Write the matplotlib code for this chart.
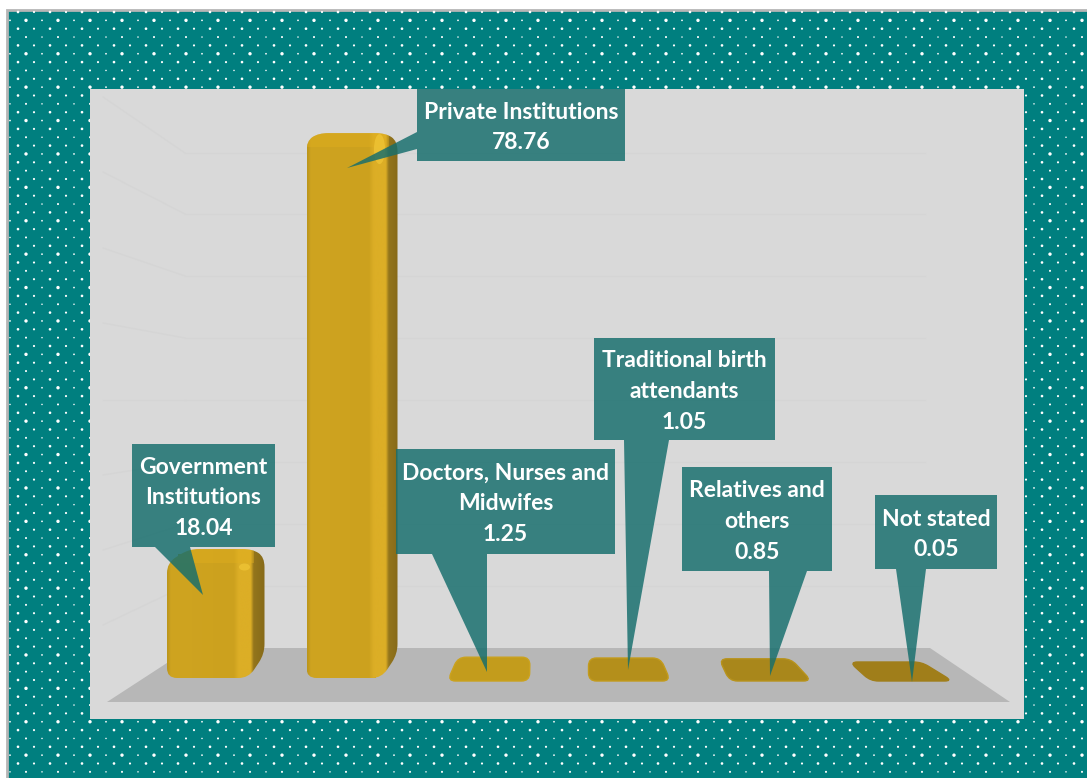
import numpy as np
import matplotlib
matplotlib.use("Agg")
import matplotlib.pyplot as plt
from matplotlib.colors import to_rgb
from matplotlib.patches import Ellipse, PathPatch, Polygon, Rectangle
from matplotlib.path import Path
from matplotlib.transforms import Affine2D

categories = ["Government\nInstitutions", "Private Institutions", "Doctors, Nurses and\nMidwifes",
              "Traditional birth\nattendants", "Relatives and\nothers", "Not stated"]
values = [18.04, 78.76, 1.25, 1.05, 0.85, 0.05]

# callout boxes (left, top, right, bottom) and pointer tips, in pixels
boxes = [(132, 444, 275, 547), (417, 89, 625, 161), (396, 449, 615, 554),
         (594, 338, 775, 440), (682, 467, 832, 571), (875, 495, 997, 569)]
tips = [(203, 595), (347, 168), (487, 672), (628, 670), (770, 676), (912, 682)]
pointer_base = [(155, 190), (132, 149), (432, 487), (624, 669), (769, 807), (896, 926)]

TEAL = "#007f7f"
BOX = "#166e6d"
BOX_ALPHA = 0.83

W, H = 1087, 778
fig = plt.figure(figsize=(W / 100, H / 100), dpi=100, facecolor="white")
ax = fig.add_axes([0, 0, 1, 1])

# category 0 sits at pixel 206.5, value 0 at pixel row 678
X0, DX = 206.5, 141
Y0, DY = 678, 6.85
XLIM = (-X0 / DX, (W - X0) / DX)
YLIM = ((Y0 - H) / DY, Y0 / DY)
ax.set_xlim(XLIM)
ax.set_ylim(YLIM)
ax.axis("off")

# picture pixels, y going down
pix = Affine2D().scale(1, -1).translate(0, H)


def to_pix(x, y):
    px, py = ax.transData.transform((x, y))
    return px, H - py


def rounded(pts, r):
    # closed outline with the corners rounded off
    pts = [np.array(p, dtype=float) for p in pts]
    verts, codes = [], []
    n = len(pts)
    for k in range(n):
        p, prev, nxt = pts[k], pts[k - 1], pts[(k + 1) % n]
        a = p + (prev - p) / np.linalg.norm(prev - p) * min(r, np.linalg.norm(prev - p) / 2)
        b = p + (nxt - p) / np.linalg.norm(nxt - p) * min(r, np.linalg.norm(nxt - p) / 2)
        verts += [a, p, b]
        codes += [Path.MOVETO if k == 0 else Path.LINETO, Path.CURVE3, Path.CURVE3]
    verts.append(verts[0])
    codes.append(Path.CLOSEPOLY)
    return Path(verts, codes)


def shade(outline, x0, x1, y0, y1, stops, zorder=4):
    # horizontal colour ramp clipped to the bar outline
    patch = PathPatch(outline, transform=pix, fc="none", ec="none", zorder=zorder)
    ax.add_patch(patch)
    xs = np.linspace(x0, x1, 200)
    cols = np.array([to_rgb(c) for _, c in stops])
    pos = [p for p, _ in stops]
    row = np.stack([np.interp(xs, pos, cols[:, j]) for j in range(3)], axis=1)
    im = ax.imshow(row[None, :, :], extent=(x0, x1, y1, y0), aspect="auto", zorder=zorder,
                   transform=pix, interpolation="bilinear")
    im.set_clip_path(patch)
    return patch


# background with dots
ax.add_patch(Rectangle((7, 10), W, H, transform=pix, fc=TEAL, ec="#b5b5b5", lw=2, zorder=0))
for r, y in enumerate(np.arange(12, H, 8.35)):
    off = 10 if r % 2 == 1 else 18
    xs = np.arange(off, W, 16)
    if r % 4 == 1:
        sizes = np.where(np.arange(len(xs)) % 2 == 1, 6, 1.6)
    elif r % 4 == 3:
        sizes = np.where(np.arange(len(xs)) % 2 == 1, 2.2, 1.2)
    else:
        sizes = np.where(np.arange(len(xs)) % 2 == 0, 3.6, 2.4)
    ax.scatter(xs, np.full(len(xs), y), s=sizes, c="white", marker="o", lw=0, zorder=1, transform=pix)

# chart panel, walls and floor
ax.add_patch(Rectangle((90, 89), 934, 630, transform=pix, fc="#d9d9d9", ec="none", zorder=2))
wall_y = [153, 214, 276, 338, 400, 462, 524, 586]
left_y = [97, 172, 248, 323, 400, 475, 550, 625]
for y, ly in zip(wall_y, left_y):
    ax.plot([185, 925], [y, y], color="#d5d5d5", lw=1, zorder=2, transform=pix)
    ax.plot([103, 185], [ly, y], color="#d5d5d5", lw=1, zorder=2, transform=pix)
ax.add_patch(Polygon([(107, 702), (1010, 702), (930, 648), (190, 648)], transform=pix,
                     fc="#b7b7b7", ec="none", zorder=2))

# the value bars themselves, the 3D skin goes on top of them
xpos = np.arange(len(values))
ax.bar(xpos, values, width=0.4, color="#cda21e", zorder=3)
ax.set_xlim(XLIM)
ax.set_ylim(YLIM)

small_fill = ["#c39c1c", "#b48f1b", "#a9871b", "#a07e1a"]
small_edge = ["#cba21d", "#c39b1c", "#b8931b", "#a07e1a"]

for i, v in enumerate(values):
    cx, ty = to_pix(i, v)
    if v > 5:
        # rounded column with a darker side face
        left = cx - (39.5 if i == 0 else 41)
        w = 97.5 if i == 0 else 91
        side = 11 if i == 0 else 9
        bottom = Y0
        top = ty - 5.4
        chamfer = (14, 22) if i == 0 else (8, 12)
        outline = rounded([(left, top + chamfer[0]), (left + chamfer[1], top), (left + w - 12, top),
                           (left + w, top + 8), (left + w, bottom - 24), (left + w - 16, bottom),
                           (left, bottom)], 10)
        stops = [(left, "#bb951b"), (left + 4, "#cfa420"), (left + w - side - 20, "#cca11e"),
                 (left + w - side - 15, "#dcae26"), (left + w - side - 3, "#dcae26"),
                 (left + w - side, "#93751c"), (left + w, "#876a19")]
        patch = shade(outline, left, left + w, top, bottom, stops)
        lid = Rectangle((left, top), w - side, 14, transform=pix, fc="#e2b01e", ec="none", alpha=0.4, zorder=4.2)
        ax.add_patch(lid)
        lid.set_clip_path(patch)
        spot = Ellipse((left + w - side - 9, top + (18 if i == 0 else 16)), 11, 7 if i == 0 else 30, transform=pix,
                       fc="#f5cb3a", ec="none", alpha=0.6, zorder=4.3)
        ax.add_patch(spot)
        spot.set_clip_path(patch)
    else:
        # flat bars only show their lid, skewed by the perspective
        top_c = 494 + 130.5 * (i - 2)
        bot_c = 488.5 + 141 * (i - 2)
        top = Y0 - 16 - 4 * (v - 0.05)
        outline = rounded([(top_c - 36, top), (top_c + 36, top), (bot_c + 41, Y0 + 3), (bot_c - 41, Y0 + 3)], 8)
        ax.add_patch(PathPatch(outline, transform=pix, fc=small_fill[i - 2], ec=small_edge[i - 2], lw=1, zorder=4))

# callouts, box and pointer as one translucent shape
for i, (cat, v, b, tip, pb) in enumerate(zip(categories, values, boxes, tips, pointer_base)):
    l, t, r, bt = b
    if i == 1:
        pts = [(l, t), (r, t), (r, bt), (l, bt), (l, pb[1]), tip, (l, pb[0])]
    else:
        pts = [(l, t), (r, t), (r, bt), (pb[1], bt), tip, (pb[0], bt), (l, bt)]
    ax.add_patch(Polygon(pts, transform=pix, fc=BOX, ec="none", alpha=BOX_ALPHA, zorder=6))
    ax.text((l + r) / 2, (t + bt) / 2 + 2.5, f"{cat}\n{v:.2f}", color="white", fontsize=16.5, fontweight="bold",
            family="Lato", ha="center", va="center", linespacing=1.57, zorder=7, transform=pix)

plt.savefig("out.png", dpi=100)
